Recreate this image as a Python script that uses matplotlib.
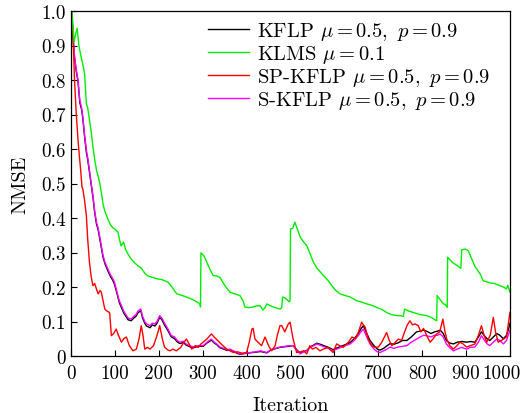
import matplotlib
matplotlib.use("Agg")
import matplotlib.pyplot as plt
import matplotlib.transforms as mtransforms

plt.rcParams['font.family'] = 'serif'
plt.rcParams['font.serif'] = ['cmr10']
plt.rcParams['mathtext.fontset'] = 'cm'
plt.rcParams['axes.formatter.use_mathtext'] = True

# ---- data ----
klms_it = [0, 1, 2, 7, 10, 14, 18, 23, 27, 31, 35, 38, 42, 46, 50, 54, 58, 62, 65, 69, 73, 77, 84, 90, 95,
           100, 107, 111, 114, 117, 120, 124, 130, 137, 145, 153, 160, 168, 175, 185, 198, 205, 210, 221,
           230, 241, 252, 263, 275, 285, 294, 295, 296, 303, 310, 317, 324, 332, 339, 350, 362, 373, 385,
           392, 396, 405, 415, 422, 430, 434, 437, 442, 446, 455, 466, 476, 480, 482, 488, 497, 499, 500,
           505, 510, 515, 522, 530, 537, 545, 552, 560, 575, 585, 594, 603, 613, 625, 636, 651, 660, 674,
           685, 696, 708, 719, 730, 742, 750, 757, 760, 770, 780, 795, 810, 820, 833, 834, 840, 848, 852,
           857, 858, 870, 880, 888, 890, 898, 905, 913, 920, 932, 939, 947, 954, 965, 977, 985, 992, 995, 1000]
klms_v = [0.0, 1.0, 1.0, 0.91, 0.93, 0.95, 0.9, 0.867, 0.845, 0.818, 0.731, 0.72, 0.684, 0.65, 0.606, 0.57,
          0.539, 0.52, 0.504, 0.475, 0.44, 0.42, 0.397, 0.38, 0.372, 0.368, 0.359, 0.335, 0.319, 0.325,
          0.33, 0.31, 0.295, 0.281, 0.27, 0.261, 0.255, 0.24, 0.232, 0.228, 0.223, 0.222, 0.22, 0.214,
          0.2, 0.18, 0.176, 0.171, 0.165, 0.158, 0.151, 0.142, 0.299, 0.29, 0.27, 0.25, 0.233, 0.232,
          0.228, 0.205, 0.185, 0.18, 0.175, 0.16, 0.142, 0.14, 0.142, 0.145, 0.146, 0.14, 0.133, 0.14,
          0.151, 0.145, 0.14, 0.136, 0.14, 0.171, 0.168, 0.157, 0.16, 0.368, 0.37, 0.388, 0.37, 0.345,
          0.33, 0.32, 0.295, 0.272, 0.255, 0.233, 0.22, 0.204, 0.19, 0.18, 0.175, 0.171, 0.16, 0.157,
          0.151, 0.147, 0.141, 0.135, 0.126, 0.12, 0.117, 0.117, 0.115, 0.136, 0.13, 0.126, 0.12, 0.117,
          0.112, 0.102, 0.175, 0.165, 0.151, 0.15, 0.141, 0.286, 0.27, 0.262, 0.254, 0.308, 0.31, 0.305,
          0.281, 0.26, 0.238, 0.218, 0.215, 0.212, 0.21, 0.204, 0.2, 0.194, 0.205, 0.185]

common_it = [0, 2, 5, 8, 12, 16, 20, 24, 27, 31, 35, 38, 42, 46, 50, 54, 58, 62, 65, 69, 73, 78, 84, 90, 95,
             99, 105, 110, 115, 120, 125, 130, 137, 143, 148, 153, 159, 163, 168, 172, 180, 185, 191, 196,
             202, 207, 213, 221, 228, 236, 242, 248, 256, 262, 270, 279, 290, 301, 310, 315, 320, 326, 332,
             339, 348, 356, 362, 370, 378, 385, 395, 408, 420, 432, 446, 455, 465, 476, 488, 499, 506, 512,
             522, 530, 537, 545, 553, 560, 570, 580, 590, 597, 605, 615, 625, 636, 645, 655, 660, 666, 672,
             681, 690, 698, 704, 712, 720, 727, 735, 745, 755, 765, 775, 787, 795, 803, 810, 820, 828, 835,
             841, 848, 855, 862, 871, 880, 890, 901, 910, 920, 928, 935, 942, 948, 954, 962, 970, 977, 985,
             992, 996, 1000]
skflp_v = [1.0, 1.0, 0.92, 0.87, 0.83, 0.8, 0.742, 0.72, 0.693, 0.64, 0.597, 0.575, 0.539, 0.5, 0.465, 0.42,
           0.388, 0.37, 0.349, 0.32, 0.291, 0.27, 0.252, 0.235, 0.225, 0.214, 0.185, 0.16, 0.146, 0.13,
           0.12, 0.11, 0.107, 0.115, 0.12, 0.131, 0.136, 0.115, 0.1, 0.093, 0.088, 0.095, 0.093, 0.1,
           0.117, 0.11, 0.095, 0.078, 0.06, 0.055, 0.045, 0.04, 0.043, 0.035, 0.03, 0.026, 0.03, 0.03,
           0.04, 0.045, 0.049, 0.04, 0.035, 0.026, 0.022, 0.018, 0.02, 0.015, 0.01, 0.006, 0.008, 0.01,
           0.012, 0.015, 0.01, 0.018, 0.022, 0.026, 0.028, 0.03, 0.03, 0.02, 0.006, 0.012, 0.015, 0.025,
           0.03, 0.035, 0.03, 0.025, 0.02, 0.015, 0.02, 0.025, 0.03, 0.035, 0.045, 0.06, 0.07, 0.078,
           0.06, 0.035, 0.02, 0.012, 0.01, 0.015, 0.02, 0.026, 0.022, 0.026, 0.028, 0.03, 0.04, 0.049,
           0.055, 0.06, 0.059, 0.055, 0.06, 0.06, 0.064, 0.055, 0.035, 0.025, 0.015, 0.02, 0.025, 0.02,
           0.025, 0.026, 0.04, 0.059, 0.045, 0.035, 0.03, 0.04, 0.049, 0.045, 0.035, 0.045, 0.06, 0.075]
kflp_v = [1.0, 1.0, 0.915, 0.865, 0.825, 0.795, 0.735, 0.715, 0.688, 0.635, 0.59, 0.57, 0.533, 0.495, 0.46,
          0.415, 0.383, 0.365, 0.344, 0.315, 0.286, 0.265, 0.247, 0.23, 0.22, 0.208, 0.18, 0.155, 0.14,
          0.125, 0.115, 0.105, 0.102, 0.11, 0.115, 0.126, 0.131, 0.11, 0.095, 0.087, 0.082, 0.09, 0.087,
          0.095, 0.112, 0.105, 0.09, 0.073, 0.056, 0.05, 0.041, 0.036, 0.039, 0.032, 0.027, 0.024, 0.028,
          0.028, 0.038, 0.042, 0.046, 0.038, 0.033, 0.024, 0.02, 0.016, 0.018, 0.013, 0.008, 0.005, 0.007,
          0.009, 0.011, 0.013, 0.009, 0.017, 0.021, 0.025, 0.027, 0.029, 0.03, 0.021, 0.008, 0.013, 0.016,
          0.026, 0.032, 0.037, 0.033, 0.028, 0.023, 0.018, 0.023, 0.028, 0.033, 0.039, 0.05, 0.066, 0.078,
          0.088, 0.07, 0.045, 0.03, 0.02, 0.017, 0.022, 0.03, 0.036, 0.034, 0.038, 0.045, 0.045, 0.055,
          0.07, 0.072, 0.075, 0.072, 0.065, 0.07, 0.072, 0.075, 0.065, 0.045, 0.038, 0.035, 0.04, 0.042,
          0.04, 0.042, 0.04, 0.055, 0.07, 0.058, 0.05, 0.045, 0.055, 0.065, 0.06, 0.05, 0.06, 0.075, 0.095]

sp_it = [0, 2, 5, 8, 12, 16, 19, 22, 25, 27, 31, 35, 38, 42, 46, 50, 54, 58, 62, 66, 69, 73, 77, 82, 88, 92,
         97, 103, 108, 115, 120, 126, 133, 141, 149, 155, 160, 164, 168, 174, 180, 188, 196, 202, 208, 213,
         220, 225, 232, 240, 250, 257, 263, 269, 275, 283, 290, 296, 301, 310, 320, 326, 331, 338, 346, 355,
         362, 370, 380, 390, 400, 406, 412, 415, 419, 426, 434, 442, 450, 457, 465, 470, 476, 480, 487, 495,
         499, 506, 514, 522, 530, 537, 544, 550, 558, 567, 575, 585, 597, 605, 612, 620, 632, 640, 648, 655,
         662, 666, 670, 677, 685, 692, 700, 708, 714, 719, 725, 731, 739, 746, 753, 760, 766, 772, 778, 784,
         791, 797, 803, 810, 818, 825, 833, 840, 847, 852, 856, 863, 871, 879, 886, 893, 901, 910, 920, 928,
         935, 941, 947, 955, 962, 967, 973, 980, 985, 992, 996, 1000]
sp_v = [1.0, 0.953, 0.916, 0.8, 0.702, 0.626, 0.58, 0.539, 0.49, 0.484, 0.45, 0.407, 0.34, 0.272, 0.23, 0.204,
        0.21, 0.194, 0.18, 0.19, 0.185, 0.16, 0.136, 0.13, 0.126, 0.059, 0.065, 0.078, 0.06, 0.04, 0.05,
        0.055, 0.03, 0.015, 0.02, 0.05, 0.088, 0.06, 0.02, 0.025, 0.02, 0.03, 0.06, 0.088, 0.05, 0.026,
        0.018, 0.015, 0.02, 0.015, 0.025, 0.04, 0.049, 0.035, 0.02, 0.03, 0.025, 0.035, 0.04, 0.05, 0.064,
        0.055, 0.049, 0.04, 0.03, 0.02, 0.015, 0.01, 0.012, 0.008, 0.01, 0.04, 0.078, 0.08, 0.049, 0.04,
        0.03, 0.055, 0.03, 0.015, 0.03, 0.06, 0.088, 0.088, 0.07, 0.093, 0.098, 0.049, 0.01, 0.012, 0.015,
        0.006, 0.03, 0.02, 0.025, 0.015, 0.02, 0.025, 0.01, 0.035, 0.03, 0.025, 0.04, 0.055, 0.05, 0.07,
        0.098, 0.09, 0.084, 0.05, 0.03, 0.025, 0.026, 0.04, 0.055, 0.068, 0.045, 0.03, 0.04, 0.049, 0.045,
        0.07, 0.09, 0.102, 0.09, 0.093, 0.088, 0.07, 0.08, 0.06, 0.04, 0.05, 0.064, 0.07, 0.107, 0.07,
        0.049, 0.03, 0.02, 0.03, 0.04, 0.035, 0.026, 0.03, 0.035, 0.06, 0.088, 0.06, 0.04, 0.06, 0.112,
        0.07, 0.04, 0.045, 0.049, 0.055, 0.09, 0.127]

labels = [r'KFLP $\mu=0.5,\ p=0.9$', r'KLMS $\mu=0.1$',
          r'SP-KFLP $\mu=0.5,\ p=0.9$', r'S-KFLP $\mu=0.5,\ p=0.9$']
xticks = list(range(0, 1001, 100))
yticks = [0, 0.1, 0.2, 0.3, 0.4, 0.5, 0.6, 0.7, 0.8, 0.9, 1.0]
ytick_labels = ['0', '0.1', '0.2', '0.3', '0.4', '0.5', '0.6', '0.7', '0.8', '0.9', '1.0']

# ---- figure ----
fig = plt.figure(figsize=(5.31, 4.14), dpi=100)
ax = fig.add_axes([71 / 531, 1 - 357 / 414, (510 - 71) / 531, (357 - 12) / 414])

lw = 1.0
h_k, = ax.plot(common_it, kflp_v, color='black', lw=lw)
h_s, = ax.plot(common_it, skflp_v, color='#ff00ff', lw=lw)
h_sp, = ax.plot(sp_it, sp_v, color='#ff0000', lw=lw)
h_g, = ax.plot(klms_it, klms_v, color='#00ee00', lw=lw)

ax.set_xlim(0, 1000)
ax.set_ylim(0, 1.0)
ax.set_xticks(xticks)
ax.set_xticklabels([str(t) for t in xticks])
ax.set_yticks(yticks)
ax.set_yticklabels(ytick_labels)
ax.tick_params(direction='in', length=4, width=0.8, labelsize=13.8, top=False, right=False)
ax.tick_params(axis='x', pad=6)
for s in ax.spines.values():
    s.set_linewidth(0.9)

# shift last x tick label left so it fits (as in the reference)
last = ax.get_xticklabels()[-1]
last.set_transform(last.get_transform() +
                   mtransforms.ScaledTranslation(-8 / 100, 0, fig.dpi_scale_trans))

ax.set_xlabel('Iteration', fontsize=14.5, labelpad=10)
ax.set_ylabel('NMSE', fontsize=14.5, labelpad=9)

leg = ax.legend([h_k, h_g, h_sp, h_s], labels, loc='upper left',
                bbox_to_anchor=((208 - 71) / 439, (357 - 21) / 345),
                frameon=False, fontsize=14.8, handlelength=2.0, handletextpad=0.4,
                labelspacing=0.05, borderpad=0, borderaxespad=0)

fig.savefig('out.png', dpi=100)
